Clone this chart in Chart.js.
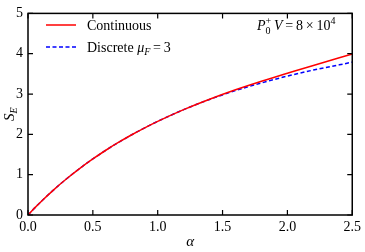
<!DOCTYPE html>
<html>
<head>
<meta charset="utf-8">
<script src="https://cdn.jsdelivr.net/npm/chart.js@4.4.1/dist/chart.umd.min.js"></script>
<style>
  html, body { margin: 0; padding: 0; background: #fff; }
  #wrap { width: 365px; height: 252px; position: relative; }
</style>
</head>
<body>
<div id="wrap"><canvas id="c"></canvas></div>
<script>
"use strict";

// alpha values and the two S_E curves
const alphaVals = [0, 0.05, 0.1, 0.2, 0.3, 0.4, 0.5, 0.6, 0.7, 0.8, 0.9, 1.0, 1.2, 1.4, 1.6, 1.8, 2.0, 2.2, 2.4, 2.5];
const continuous = [0, 0.17, 0.33, 0.63, 0.905, 1.158, 1.391, 1.606, 1.805, 1.99, 2.162, 2.322, 2.613, 2.872, 3.106, 3.319, 3.515, 3.71, 3.90, 3.99];
const discrete   = [0, 0.17, 0.33, 0.63, 0.905, 1.158, 1.391, 1.606, 1.805, 1.99, 2.162, 2.322, 2.613, 2.866, 3.085, 3.275, 3.445, 3.595, 3.725, 3.79];

const xTicks = [0, 0.5, 1.0, 1.5, 2.0, 2.5];
const yTicks = [0, 1, 2, 3, 4, 5];

const SERIF = "Liberation Serif";
const RED = "#ff0000";
const BLUE = "#0000ff";

function fontStr(p) {
  return (p.italic ? "italic " : "") + (p.size || 14) + "px \"" + SERIF + "\"";
}

// draw a run of text pieces: {t, italic, size, dy}
function drawRich(ctx, x, y, parts) {
  let cx = x;
  for (const p of parts) {
    ctx.font = fontStr(p);
    ctx.fillText(p.t, cx, y + (p.dy || 0));
    cx += ctx.measureText(p.t).width + (p.gap || 0);
  }
  return cx - x;
}

function richWidth(ctx, parts) {
  let w = 0;
  for (const p of parts) {
    ctx.font = fontStr(p);
    w += ctx.measureText(p.t).width + (p.gap || 0);
  }
  return w;
}

const framePlugin = {
  id: "frame",
  afterDraw(chart) {
    const { ctx, chartArea: a, scales } = chart;
    const xs = scales.x, ys = scales.y;
    ctx.save();
    ctx.strokeStyle = "#000";
    ctx.lineWidth = 1.5;
    ctx.strokeRect(a.left, a.top, a.right - a.left, a.bottom - a.top);

    // inward ticks on all four sides
    const tl = 5;
    ctx.lineWidth = 1.2;
    ctx.beginPath();
    xTicks.forEach(v => {
      const px = xs.getPixelForValue(v);
      ctx.moveTo(px, a.bottom); ctx.lineTo(px, a.bottom - tl);
      ctx.moveTo(px, a.top);    ctx.lineTo(px, a.top + tl);
    });
    yTicks.forEach(v => {
      const py = ys.getPixelForValue(v);
      ctx.moveTo(a.left, py);  ctx.lineTo(a.left + tl, py);
      ctx.moveTo(a.right, py); ctx.lineTo(a.right - tl, py);
    });
    ctx.stroke();

    ctx.fillStyle = "#000";
    ctx.textBaseline = "alphabetic";
    ctx.textAlign = "left";

    // legend
    const lx0 = 46, lx1 = 76, tx = 87;
    ctx.lineWidth = 1.5;
    ctx.strokeStyle = RED;
    ctx.beginPath(); ctx.moveTo(lx0, 25); ctx.lineTo(lx1, 25); ctx.stroke();
    ctx.strokeStyle = BLUE;
    ctx.setLineDash([4, 2.5]);
    ctx.beginPath(); ctx.moveTo(lx0, 47); ctx.lineTo(lx1, 47); ctx.stroke();
    ctx.setLineDash([]);
    drawRich(ctx, tx, 30, [{ t: "Continuous" }]);
    drawRich(ctx, tx, 52, [
      { t: "Discrete " },
      { t: "\u03bc", italic: true },
      { t: "F", italic: true, size: 10, dy: 3 },
      { t: "\u2009=\u20093" }
    ]);

    // parameter annotation
    drawRich(ctx, 257, 30, [
      { t: "P", italic: true },
      { t: "0", size: 10, dy: 4, gap: -5 },
      { t: "+", size: 10, dy: -6 },
      { t: "\u2009V", italic: true },
      { t: "\u2009=\u20098\u2009\u00d7\u200910" },
      { t: "4", size: 10, dy: -6 }
    ]);

    // axis titles
    const xt = [{ t: "\u03b1", italic: true, size: 15 }];
    drawRich(ctx, (a.left + a.right) / 2 - richWidth(ctx, xt) / 2, 246, xt);

    const yt = [{ t: "S", italic: true, size: 15 }, { t: "E", italic: true, size: 10, dy: 3 }];
    ctx.translate(14, (a.top + a.bottom) / 2);
    ctx.rotate(-Math.PI / 2);
    drawRich(ctx, -richWidth(ctx, yt) / 2, 0, yt);
    ctx.restore();
  }
};

function build() {
  new Chart(document.getElementById("c").getContext("2d"), {
    type: "line",
    data: {
      datasets: [
        {
          label: "Continuous",
          data: alphaVals.map((a, i) => ({ x: a, y: continuous[i] })),
          borderColor: RED,
          borderWidth: 1.5,
          pointRadius: 0,
          fill: false,
          cubicInterpolationMode: "monotone"
        },
        {
          label: "Discrete",
          data: alphaVals.map((a, i) => ({ x: a, y: discrete[i] })),
          borderColor: BLUE,
          borderWidth: 1.5,
          borderDash: [4, 2.5],
          pointRadius: 0,
          fill: false,
          cubicInterpolationMode: "monotone"
        }
      ]
    },
    options: {
      responsive: true,
      maintainAspectRatio: false,
      animation: false,
      layout: { padding: { left: 0, right: 11, top: 6, bottom: 0 } },
      plugins: { legend: { display: false }, tooltip: { enabled: false } },
      scales: {
        x: {
          type: "linear",
          min: 0, max: 2.5,
          afterBuildTicks: s => { s.ticks = xTicks.map(v => ({ value: v })); },
          afterFit: s => { s.height = 37; },
          grid: { display: false, drawTicks: false },
          border: { display: false },
          ticks: {
            color: "#000",
            padding: 4,
            font: { family: "\"" + SERIF + "\"", size: 14 },
            callback: v => Number(v).toFixed(1),
            maxRotation: 0
          }
        },
        y: {
          type: "linear",
          min: 0, max: 5,
          afterBuildTicks: s => { s.ticks = yTicks.map(v => ({ value: v })); },
          afterFit: s => { s.width = 28; },
          grid: { display: false, drawTicks: false },
          border: { display: false },
          ticks: {
            color: "#000",
            padding: 5,
            font: { family: "\"" + SERIF + "\"", size: 14 },
            callback: v => String(v)
          }
        }
      }
    },
    plugins: [framePlugin]
  });
}

Promise.all([
  document.fonts.load("14px \"" + SERIF + "\""),
  document.fonts.load("italic 14px \"" + SERIF + "\"")
]).catch(() => {}).then(build);
</script>
</body>
</html>
